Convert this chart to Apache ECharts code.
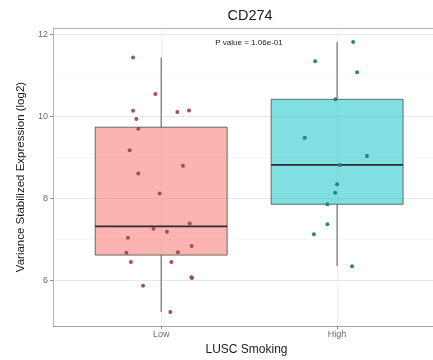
<!DOCTYPE html>
<html>
<head>
<meta charset="utf-8">
<script src="https://cdn.jsdelivr.net/npm/echarts@6/dist/echarts.min.js"></script>
<style>
  html, body { margin: 0; padding: 0; background: #ffffff; }
  #chart { width: 433px; height: 360px; }
</style>
</head>
<body>
<div id="chart"></div>
<script>
// Groups on the x axis (positions 1 and 2)
const categories = ['Low', 'High'];

// Box summaries per group: [min, Q1, median, Q3, max]
const boxLow  = [5.23, 6.62, 7.32, 9.74, 11.44];
const boxHigh = [6.35, 7.86, 8.82, 10.42, 11.82];

// Jittered samples: [x position, expression]
const lowPoints = [
  [0.84, 11.44], [0.967, 10.55], [0.84, 10.14], [1.092, 10.11], [1.158, 10.15],
  [0.859, 9.94], [0.870, 9.70], [0.821, 9.18], [1.124, 8.80], [0.870, 8.61],
  [0.991, 8.12], [1.162, 7.39], [0.956, 7.26], [1.033, 7.19], [0.811, 7.04],
  [1.173, 6.84], [1.095, 6.69], [0.802, 6.68], [0.828, 6.45], [1.058, 6.45],
  [1.172, 6.08], [1.175, 6.06], [0.897, 5.87], [1.052, 5.23]
];
const highPoints = [
  [2.091, 11.82], [1.875, 11.35], [2.114, 11.08], [1.991, 10.42], [1.816, 9.48],
  [2.170, 9.04], [2.015, 8.82], [2.000, 8.35], [1.989, 8.14], [1.945, 7.86],
  [1.945, 7.37], [1.868, 7.13], [2.085, 6.35]
];

// Axis ranges, ticks and grid lines
const yRange = [4.89, 12.16];
const xRange = [0.385, 2.585];
const yTicks = [6, 8, 10, 12];
const yMinorGrid = [5, 7, 9, 11];
const xTicks = [1, 2];
const pValueText = 'P value = 1.06e-01';

const FONT = "'Liberation Sans', Arial, Helvetica, sans-serif";
const boxFills = ['rgba(248,118,109,0.55)', 'rgba(0,191,196,0.5)'];
const pointColors = ['#9E4654', '#1F7D80'];

const chart = echarts.init(document.getElementById('chart'), null, { renderer: 'canvas' });

const gridLines = []
  .concat(yTicks.map(v => ({ yAxis: v, lineStyle: { color: '#E4E4E4', width: 0.9, type: 'solid' } })))
  .concat(yMinorGrid.map(v => ({ yAxis: v, lineStyle: { color: '#F2F2F2', width: 0.7, type: 'solid' } })))
  .concat(xTicks.map(v => ({ xAxis: v, lineStyle: { color: '#EDEDED', width: 0.9, type: 'solid' } })))
  // top edge of the panel
  .concat([{ yAxis: yRange[1], lineStyle: { color: '#B5B5B5', width: 1, type: 'solid' } }]);

const option = {
  backgroundColor: '#ffffff',
  animation: false,
  grid: {
    left: 53, top: 28, width: 387, height: 298,
    outerBoundsMode: 'none',
    containLabel: false,
    show: false
  },
  xAxis: {
    type: 'value',
    min: xRange[0], max: xRange[1],
    name: 'LUSC Smoking',
    nameLocation: 'middle',
    nameGap: 16,
    nameTextStyle: { fontFamily: FONT, fontSize: 12, color: '#1a1a1a' },
    axisLine: { show: true, lineStyle: { color: '#A0A0A0', width: 1.2 } },
    axisTick: { show: true, customValues: xTicks, length: 3, lineStyle: { color: '#8a8a8a' } },
    axisLabel: {
      customValues: xTicks,
      formatter: v => categories[Math.round(v) - 1],
      fontFamily: FONT, fontSize: 9, color: '#6b6b6b', margin: 4
    },
    splitLine: { show: false }
  },
  yAxis: {
    type: 'value',
    min: yRange[0], max: yRange[1],
    name: 'Variance Stabilized Expression (log2)',
    nameLocation: 'middle',
    nameGap: 21,
    nameTextStyle: { fontFamily: FONT, fontSize: 11.5, color: '#1a1a1a' },
    axisLine: { show: true, lineStyle: { color: '#B5B5B5', width: 1 } },
    axisTick: { show: true, customValues: yTicks, length: 3, lineStyle: { color: '#8a8a8a' } },
    axisLabel: {
      customValues: yTicks,
      fontFamily: FONT, fontSize: 9, color: '#6b6b6b', margin: 5
    },
    splitLine: { show: false }
  },
  graphic: [
    {
      type: 'text', x: 250, y: 16,
      style: { text: 'CD274', font: '14.5px ' + FONT, fill: '#1a1a1a', textAlign: 'center', textVerticalAlign: 'middle' }
    },
    {
      type: 'text', x: 249, y: 43,
      style: { text: pValueText, font: '8px ' + FONT, fill: '#222222', textAlign: 'center', textVerticalAlign: 'middle' }
    }
  ],
  series: [
    {
      // panel grid lines
      type: 'line',
      data: [],
      z: 0,
      silent: true,
      markLine: {
        z: 0,
        silent: true,
        symbol: ['none', 'none'],
        label: { show: false },
        animation: false,
        data: gridLines
      }
    },
    {
      type: 'custom',
      z: 1,
      silent: true,
      encode: { x: 0, y: [1, 2, 3, 4, 5] },
      data: [[1].concat(boxLow), [2].concat(boxHigh)],
      renderItem: function (params, api) {
        const x = api.value(0);
        const mn = api.value(1), q1 = api.value(2), md = api.value(3), q3 = api.value(4), mx = api.value(5);
        const half = api.size([0.375, 0])[0];
        const pMin = api.coord([x, mn]);
        const pQ1 = api.coord([x, q1]);
        const pMd = api.coord([x, md]);
        const pQ3 = api.coord([x, q3]);
        const pMax = api.coord([x, mx]);
        const whisker = { stroke: '#555555', lineWidth: 1 };
        return {
          type: 'group',
          children: [
            { type: 'line', shape: { x1: pMin[0], y1: pMin[1], x2: pQ1[0], y2: pQ1[1] }, style: whisker },
            { type: 'line', shape: { x1: pQ3[0], y1: pQ3[1], x2: pMax[0], y2: pMax[1] }, style: whisker },
            {
              type: 'rect',
              shape: { x: pQ3[0] - half, y: pQ3[1], width: half * 2, height: pQ1[1] - pQ3[1] },
              style: { fill: boxFills[params.dataIndex], stroke: '#4a4a4a', lineWidth: 0.8 }
            },
            {
              type: 'line',
              shape: { x1: pMd[0] - half, y1: pMd[1], x2: pMd[0] + half, y2: pMd[1] },
              style: { stroke: '#2b2b2b', lineWidth: 1.8 }
            }
          ]
        };
      }
    },
    {
      type: 'scatter',
      z: 3,
      data: lowPoints,
      symbolSize: 4,
      itemStyle: { color: pointColors[0], opacity: 0.95 }
    },
    {
      type: 'scatter',
      z: 3,
      data: highPoints,
      symbolSize: 4,
      itemStyle: { color: pointColors[1], opacity: 0.95 }
    }
  ]
};

chart.setOption(option);
</script>
</body>
</html>
